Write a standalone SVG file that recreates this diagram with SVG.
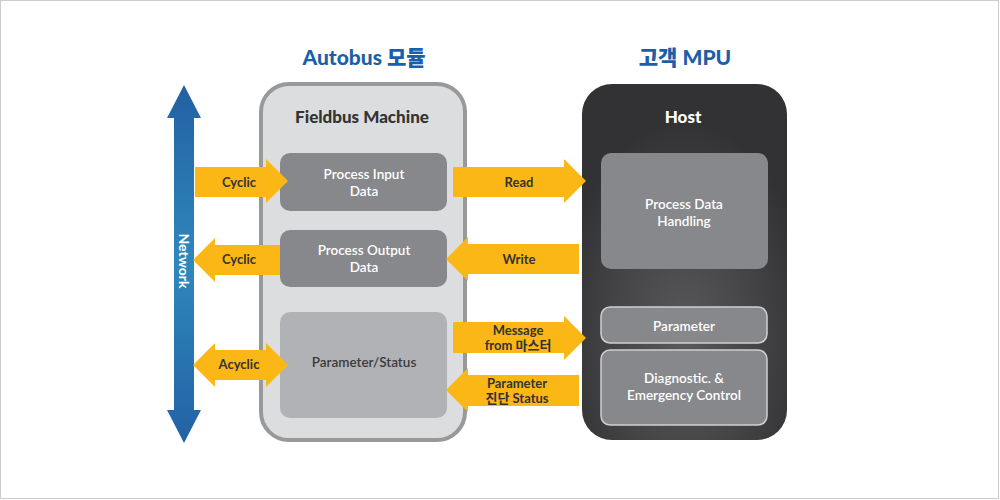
<svg xmlns="http://www.w3.org/2000/svg" width="1000" height="500" viewBox="0 0 1000 500">
<defs>
<linearGradient id="net" x1="0" y1="85" x2="0" y2="443" gradientUnits="userSpaceOnUse">
<stop offset="0" stop-color="#2360a3"/>
<stop offset="0.5" stop-color="#2e88bb"/>
<stop offset="1" stop-color="#2361a5"/>
</linearGradient>
<radialGradient id="host" cx="0.5" cy="0.72" r="0.62">
<stop offset="0" stop-color="#59595b"/>
<stop offset="0.6" stop-color="#434345"/>
<stop offset="1" stop-color="#323234"/>
</radialGradient>
<style>
text{font-family:Lato,"Noto Sans","Noto Sans CJK KR",sans-serif;text-anchor:middle;dominant-baseline:central}
.title{font-size:21px;font-weight:900;fill:#1c5fa9}
.head{font-size:17px;font-weight:900}
.box{font-size:13.5px;font-weight:600;fill:#ffffff}
.lbl{font-size:13px;font-weight:bold;fill:#333333}
.arrow{fill:#fbb716}
.inner{fill:#87888b}
</style>
</defs>
<rect x="0.5" y="0.5" width="998" height="498" fill="#ffffff" stroke="#cccccc" stroke-width="1"/>

<text class="title" x="364" y="56">Autobus 모듈</text>
<text class="title" x="685" y="56">고객 MPU</text>

<g id="network">
<path d="M184,85 L201,118 H194 V410 H201 L184,443 L167,410 H174 V118 H167 Z" fill="url(#net)"/>
<text x="184" y="261" transform="rotate(90 184 261)" font-size="14" font-weight="bold" fill="#ffffff">Network</text>
</g>

<g id="fieldbus">
<rect x="261" y="84" width="204" height="356" rx="28" fill="#dcdddf" stroke="#98999b" stroke-width="4"/>
<text class="head" x="362" y="116" fill="#333333">Fieldbus Machine</text>
</g>
<g id="pin">
<rect class="inner" x="280" y="153" width="167" height="58" rx="10"/>
<text class="box" x="364" y="174">Process Input</text>
<text class="box" x="364" y="191">Data</text>
</g>
<g id="pout">
<rect class="inner" x="280" y="230" width="167" height="57" rx="10"/>
<text class="box" x="364" y="250">Process Output</text>
<text class="box" x="364" y="267">Data</text>
</g>
<g id="pstatus">
<rect x="280" y="312" width="167" height="106" rx="10" fill="#b1b2b5"/>
<text class="box" x="364" y="362" style="fill:#3a3a3c">Parameter/Status</text>
</g>

<g id="host">
<rect x="582" y="84" width="205" height="356" rx="30" fill="url(#host)"/>
<text class="head" x="683" y="116" fill="#ffffff">Host</text>
</g>
<g id="pdh">
<rect class="inner" x="601" y="153" width="167" height="116" rx="10"/>
<text class="box" x="684" y="204">Process Data</text>
<text class="box" x="684" y="221">Handling</text>
</g>
<g id="param">
<rect class="inner" x="601" y="307" width="166" height="36" rx="9" stroke="#cfcfd0" stroke-width="1.5"/>
<text class="box" x="684" y="326">Parameter</text>
</g>
<g id="diag">
<rect class="inner" x="601" y="350" width="166" height="75" rx="9" stroke="#cfcfd0" stroke-width="1.5"/>
<text class="box" x="684" y="378">Diagnostic. &amp;</text>
<text class="box" x="684" y="395">Emergency Control</text>
</g>

<g id="connectors">
<path class="arrow" d="M195,167 H266 V159 L288,181 L266,203 V197 H195 Z"/>
<text class="lbl" x="239" y="182">Cyclic</text>
<path class="arrow" d="M193,260 L215,238 V245 H280 V275 H215 V282 Z"/>
<text class="lbl" x="239" y="259">Cyclic</text>
<path class="arrow" d="M193,365 L215,343 V350 H266 V343 L288,365 L266,387 V380 H215 V387 Z"/>
<text class="lbl" x="239" y="364">Acyclic</text>
<path class="arrow" d="M453,167 H564 V159 L586,181 L564,203 V197 H453 Z"/>
<text class="lbl" x="519" y="182">Read</text>
<path class="arrow" d="M446,259 L468,237 V244 H579 V274 H468 V281 Z"/>
<text class="lbl" x="519" y="259">Write</text>
<path class="arrow" d="M453,322 H564 V316 L586,338 L564,360 V353 H453 Z"/>
<text class="lbl" x="518" y="330">Message</text>
<text class="lbl" x="518" y="345">from 마스터</text>
<path class="arrow" d="M446,390 L468,368 V375 H579 V406 H468 V412 Z"/>
<text class="lbl" x="517" y="383">Parameter</text>
<text class="lbl" x="517" y="398">진단 Status</text>
</g>
</svg>
